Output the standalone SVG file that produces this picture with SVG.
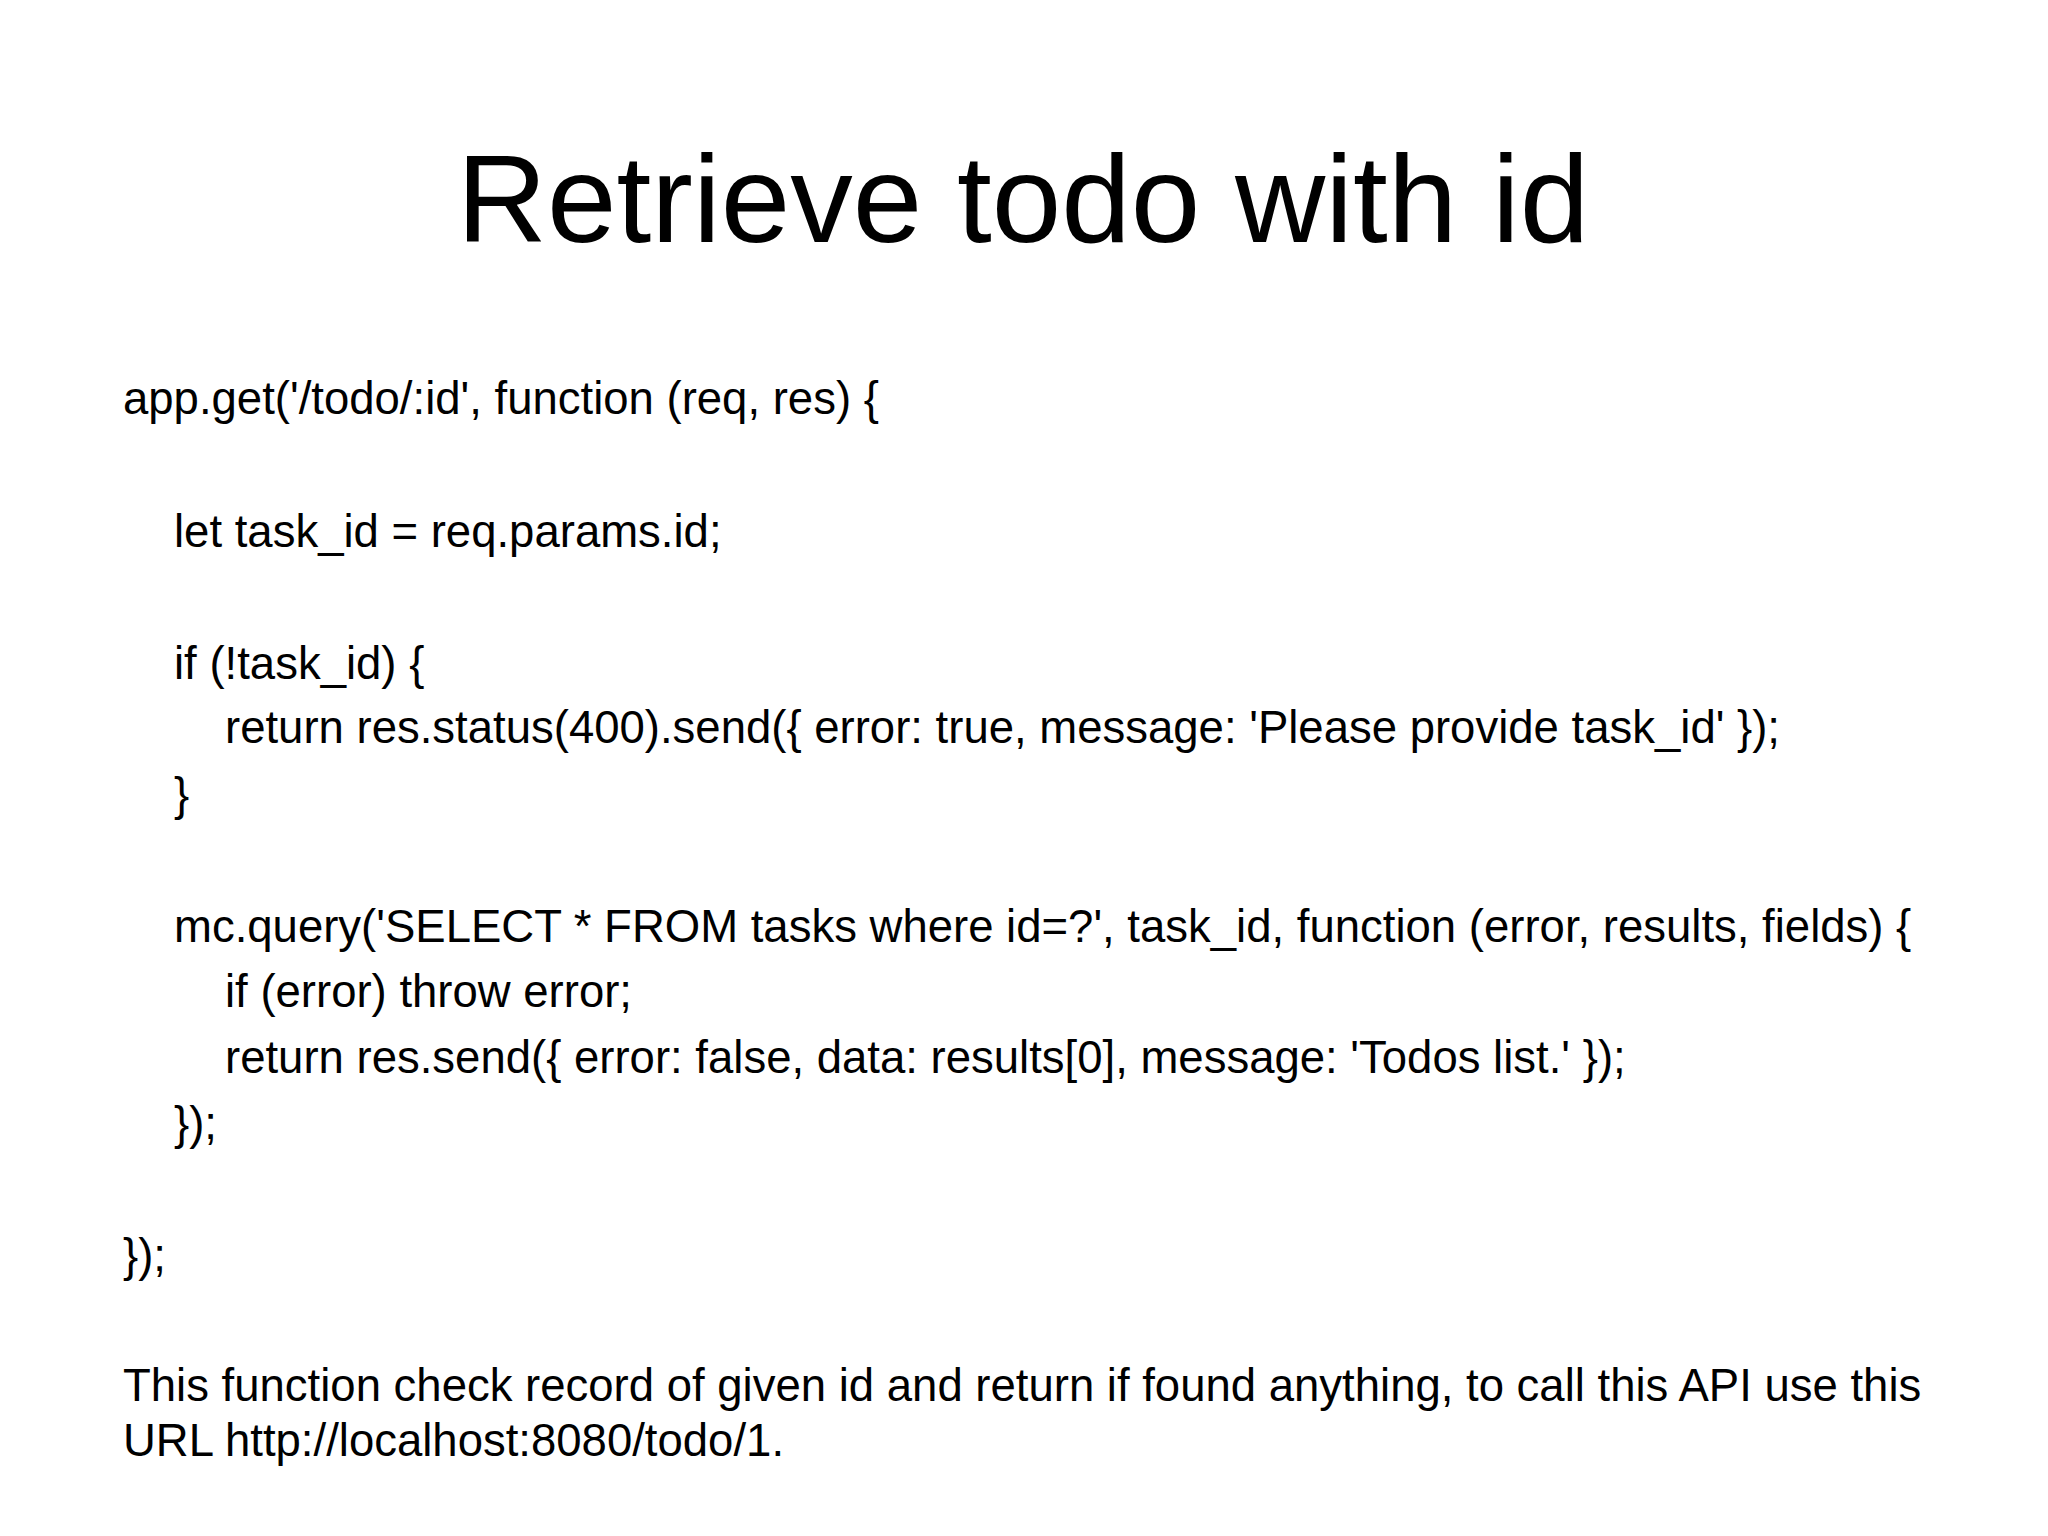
<svg xmlns="http://www.w3.org/2000/svg" width="2048" height="1536" viewBox="0 0 2048 1536">
<style>
text{font-family:"Liberation Sans",Arial,sans-serif;fill:#000}
.c{font-size:45.5px}
</style>
<rect width="2048" height="1536" fill="#fff"/>
<g id="title"><text x="1023" y="242" font-size="125" text-anchor="middle">Retrieve todo with id</text></g>
<g id="code">
<text class="c" x="123" y="414">app.get('/todo/:id', function (req, res) {</text>
<text class="c" x="174" y="547">let task_id = req.params.id;</text>
<text class="c" x="174" y="679">if (!task_id) {</text>
<text class="c" x="225" y="743">return res.status(400).send({ error: true, message: 'Please provide task_id' });</text>
<text class="c" x="174" y="810">}</text>
<text class="c" x="174" y="942">mc.query('SELECT * FROM tasks where id=?', task_id, function (error, results, fields) {</text>
<text class="c" x="225" y="1007">if (error) throw error;</text>
<text class="c" x="225" y="1073">return res.send({ error: false, data: results[0], message: 'Todos list.' });</text>
<text class="c" x="174" y="1139">});</text>
<text class="c" x="123" y="1271">});</text>
<text class="c" x="123" y="1401">This function check record of given id and return if found anything, to call this API use this</text>
<text class="c" x="123" y="1456">URL http://localhost:8080/todo/1.</text>
</g>
</svg>
